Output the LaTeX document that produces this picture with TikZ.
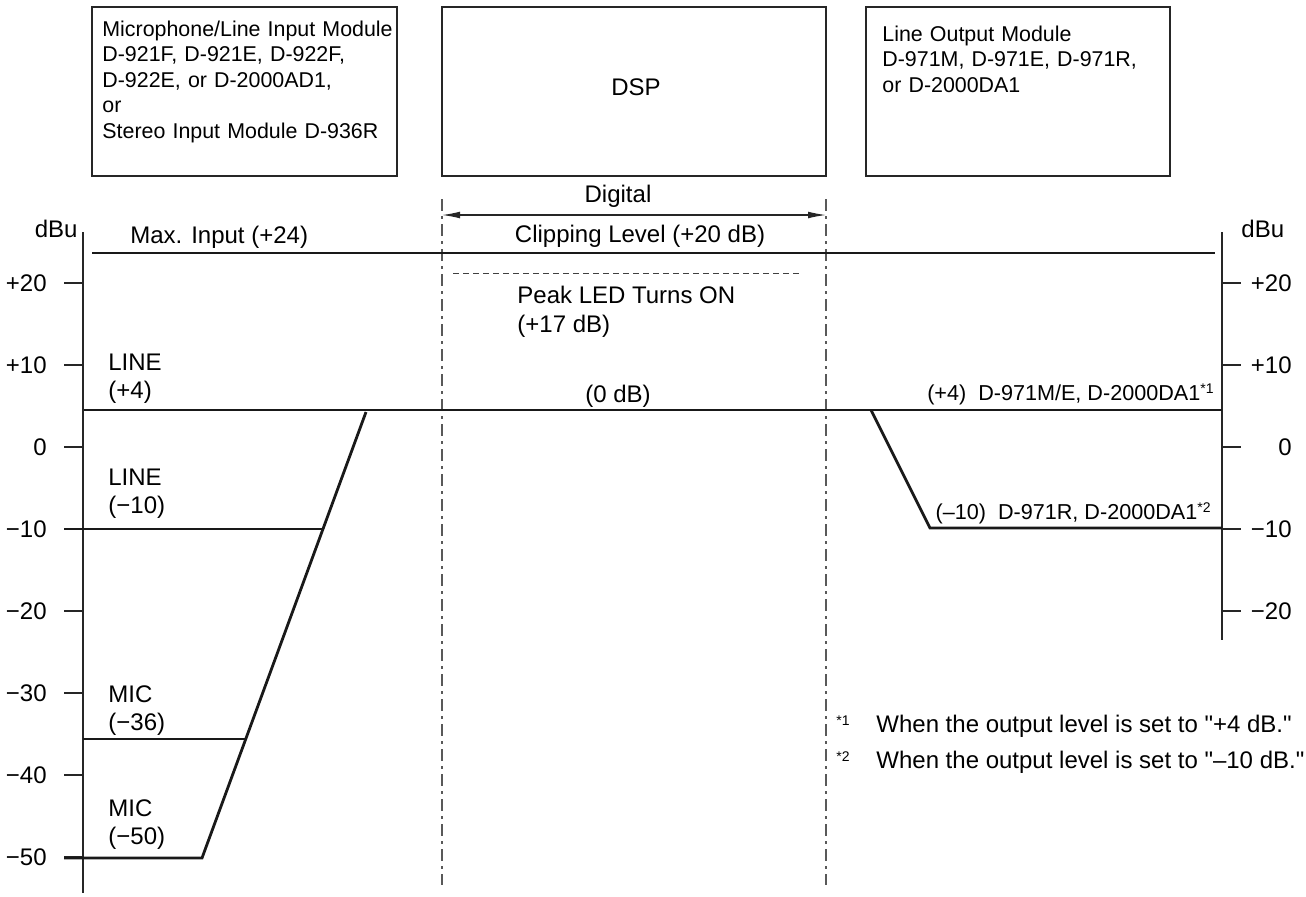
\documentclass[tikz,border=0pt]{standalone}
\usepackage{fontspec}
\setmainfont{Liberation Sans}
\usetikzlibrary{arrows.meta,positioning,calc}

\newcommand{\fnmark}[1]{\raisebox{3.5pt}{\fontsize{7}{8}\selectfont *#1}}

\begin{document}
\begin{tikzpicture}[
    x=0.5pt, y=-0.5pt,
    font=\fontsize{12}{14}\selectfont,
    >={Latex[length=9pt,width=3.4pt]},
    modbox/.style={draw=black!85, line width=0.6pt, minimum width=#1,
                   minimum height=84.5pt, inner sep=0pt},
    boxtxt/.style={font=\fontsize{10.7}{12.8}\selectfont, align=left,
                   text width=150pt, anchor=base west, inner sep=0pt},
    lbl/.style={inner sep=0pt, anchor=base west},
    outlbl/.style={inner sep=0pt, anchor=base east, font=\fontsize{10.8}{13}\selectfont},
    lvltxt/.style={align=left, text width=60pt, anchor=base west, inner sep=0pt},
    level/.style={line width=1.4pt, black!90},
    axis/.style={line width=0.6pt, black!85},
    zone/.style={line width=0.6pt, black!65,
                 dash pattern=on 6pt off 2.5pt on 1.5pt off 2.5pt}
  ]
  \useasboundingbox (0,0) rectangle (1306,896);

  % Cajas de modulos (arriba)
  \node[modbox=152.5pt] (inmod) at (244.5,91.5) {};
  \node[boxtxt] (intxt) at (102,36) {
    Microphone/Line Input Module\\
    D-921F, D-921E, D-922F,\\
    D-922E, or D-2000AD1,\\
    or\\
    Stereo Input Module D-936R
  };
  \node[modbox=192pt] (dsp) at (634,91.5) {};
  \node[lbl, anchor=center] (dsptxt) at (636,87) {DSP};
  \node[modbox=152pt] (outmod) at (1018,91.5) {};
  \node[boxtxt] (outtxt) at (882,41) {
    Line Output Module\\
    D-971M, D-971E, D-971R,\\
    or D-2000DA1
  };

  % Ejes dBu (izquierda y derecha)
  \coordinate (laxT) at (83,232);
  \coordinate (laxB) at (83,893);
  \coordinate (raxT) at (1222,232);
  \coordinate (raxB) at (1222,640);
  \draw[axis] (laxT) -- (laxB);
  \draw[axis] (raxT) -- (raxB);
  \node[lbl, anchor=base east] (ldbu) at (78,237) {dBu};
  \node[lbl] (rdbu) at (1241,237) {dBu};
  \foreach \yy/\lab [count=\i] in {283/+20,365/+10,447/0,529/−10,611/−20,693/−30,775/−40,857/−50}{
    \draw[axis] (64,\yy) -- (83,\yy);
    \node[inner sep=0pt, anchor=east] (ltk\i) at (47,\yy) {\lab};
  }
  \foreach \yy/\lab [count=\i] in {283/+20,365/+10,447/0,529/−10,611/−20}{
    \draw[axis] (1222,\yy) -- (1241,\yy);
    \node[inner sep=0pt, anchor=east] (rtk\i) at (1292,\yy) {\lab};
  }

  % Zona digital (lineas de trazo y punto)
  \coordinate (digTL) at (442,199);
  \coordinate (digBL) at (442,885);
  \coordinate (digTR) at (826,199);
  \coordinate (digBR) at (826,885);
  \draw[zone] (digTL) -- (digBL);
  \draw[zone] (digTR) -- (digBR);
  \coordinate (arrL) at (442,215);
  \coordinate (arrR) at (826,215);
  \draw[<->, line width=0.6pt, black!85] (arrL) -- (arrR);
  \node[lbl, anchor=base] (digital) at (618,202) {Digital};
  \node[lbl, anchor=base] (clip) at (640,242) {Clipping Level (+20 dB)};
  \coordinate (peakL) at (453,273);
  \coordinate (peakR) at (802,273);
  \draw[line width=0.5pt, black!75, dash pattern=on 3pt off 2pt] (peakL) -- (peakR);
  \node[lbl] (peak) at (517,303) {Peak LED Turns ON};
  \node[lbl] (peakdb) at (517,332) {(+17 dB)};
  \node[lbl] (zerodb) at (585,402) {(0 dB)};

  % Niveles de senal
  \draw[level] (92,253) -- (1215,253);
  \node[lbl] (maxin) at (130,243) {Max. Input (+24)};
  \draw[level] (84,410) -- (1222,410);
  \draw[level] (64,858) -- (202,858) -- (366,412);
  \draw[level] (64,529) -- (323,529);
  \draw[level] (83,739) -- (246,739);
  \draw[level] (871,410) -- (930,528) -- (1222,528);

  % Etiquetas de entrada (izquierda)
  \node[lvltxt] (linehi) at (108,370) {LINE\\(+4)};
  \node[lvltxt] (linelo) at (108,485) {LINE\\(−10)};
  \node[lvltxt] (michi) at (108,702) {MIC\\(−36)};
  \node[lvltxt] (miclo) at (108,816) {MIC\\(−50)};

  % Etiquetas de salida (derecha)
  \node[outlbl] (outhi) at (1214,400) {(+4)\ \ D-971M/E, D-2000DA1\fnmark{1}};
  \node[outlbl] (outlo) at (1211,519) {(–10)\ \ D-971R, D-2000DA1\fnmark{2}};

  % Notas
  \node[lbl] (fn1m) at (836,732) {\fnmark{1}};
  \node[lbl] (fn1) at (876,732) {When the output level is set to \textquotedbl+4 dB.\textquotedbl};
  \node[lbl] (fn2m) at (836,768) {\fnmark{2}};
  \node[lbl] (fn2) at (876,768) {When the output level is set to \textquotedbl–10 dB.\textquotedbl};

\end{tikzpicture}
\end{document}
